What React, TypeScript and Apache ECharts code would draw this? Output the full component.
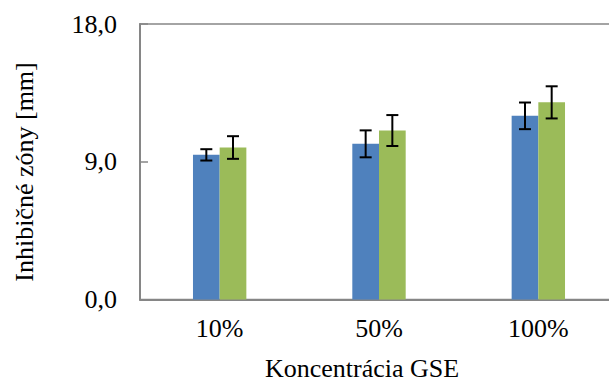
import React, { useEffect, useRef } from "react";
import * as echarts from "echarts";

const categories = ["10%", "50%", "100%"];
const seriesA = [9.45, 10.17, 12.0];
const errorsA = [0.37, 0.88, 0.87];
const seriesB = [9.93, 11.04, 12.88];
const errorsB = [0.74, 1.01, 1.05];
const yTicks = [0, 9, 18];
const xTitle = "Koncentrácia GSE";
const yTitle = "Inhibičné zóny [mm]";

const FONT = "Liberation Serif";
const BAR_GAP_CAT = 0.665;

function errorSeries(values: number[], errs: number[], side: number) {
  return {
    type: "custom",
    silent: true,
    z: 10,
    data: values.map((v, i) => [i, v, errs[i]]),
    renderItem: (params: any, api: any) => {
      const idx = api.value(0);
      const v = api.value(1);
      const e = api.value(2);
      const band = api.size([1, 0])[0];
      const barW = (band * (1 - BAR_GAP_CAT)) / 2;
      const c = api.coord([idx, v]);
      const x = c[0] + side * barW / 2;
      const top = api.coord([idx, v + e])[1];
      const bot = api.coord([idx, v - e])[1];
      const cap = 6;
      const style = { stroke: "#000", lineWidth: 2 };
      return {
        type: "group",
        children: [
          { type: "line", shape: { x1: x, y1: top, x2: x, y2: bot }, style },
          { type: "line", shape: { x1: x - cap, y1: top, x2: x + cap, y2: top }, style },
          { type: "line", shape: { x1: x - cap, y1: bot, x2: x + cap, y2: bot }, style },
        ],
      };
    },
  };
}

const labelRich = { s: { fontFamily: FONT, fontSize: 26, color: "#000" } };

export default function App() {
  const ref = useRef<HTMLDivElement>(null);
  useEffect(() => {
    if (!ref.current) return;
    const chart = echarts.init(ref.current, null, { renderer: "svg" });
    chart.setOption({
      animation: false,
      backgroundColor: "#fff",
      textStyle: { fontFamily: FONT },
      grid: {
        left: 140,
        top: 24,
        width: 478,
        height: 275.5,
        show: true,
        borderColor: "#868686",
        borderWidth: 1.5,
        backgroundColor: "transparent",
        containLabel: false,
        outerBoundsMode: "none",
      },
      xAxis: {
        type: "category",
        data: categories,
        axisLine: { show: true, lineStyle: { color: "#868686", width: 2 } },
        axisTick: { show: false },
        axisLabel: {
          color: "#000",
          fontSize: 26,
          fontFamily: FONT,
          margin: 16,
          formatter: (v: string) => `{s|${v}}`,
          rich: labelRich,
        },
      },
      yAxis: {
        type: "value",
        min: 0,
        max: 18,
        interval: 9,
        axisLine: { show: true, lineStyle: { color: "#868686", width: 2 } },
        axisTick: { show: true, inside: true, length: 8, lineStyle: { color: "#868686", width: 1.5 } },
        splitLine: { show: false },
        axisLabel: {
          color: "#000",
          fontSize: 26,
          fontFamily: FONT,
          margin: 23,
          formatter: (v: number) =>
            yTicks.includes(v) ? `{s|${v.toFixed(1).replace(".", ",")}}` : "",
          rich: labelRich,
        },
      },
      series: [
        {
          type: "bar",
          data: seriesA,
          barGap: "0%",
          barCategoryGap: (BAR_GAP_CAT * 100) + "%",
          itemStyle: { color: "#4F81BD" },
        },
        {
          type: "bar",
          data: seriesB,
          barGap: "0%",
          barCategoryGap: (BAR_GAP_CAT * 100) + "%",
          itemStyle: { color: "#9BBB59" },
        },
        errorSeries(seriesA, errorsA, -1),
        errorSeries(seriesB, errorsB, 1),
      ],
      graphic: [
        {
          type: "text",
          x: 362,
          y: 368,
          style: {
            text: xTitle,
            fontFamily: FONT,
            fontSize: 26,
            fill: "#000",
            align: "center",
            verticalAlign: "middle",
          },
        },
        {
          type: "text",
          x: 24,
          y: 172,
          rotation: Math.PI / 2,
          style: {
            text: yTitle,
            fontFamily: FONT,
            fontSize: 26,
            fill: "#000",
            align: "center",
            verticalAlign: "middle",
          },
        },
      ],
    });
    return () => chart.dispose();
  }, []);
  return (
    <div
      ref={ref}
      style={{ position: "fixed", left: 0, top: 0, width: 609, height: 382 }}
    />
  );
}
